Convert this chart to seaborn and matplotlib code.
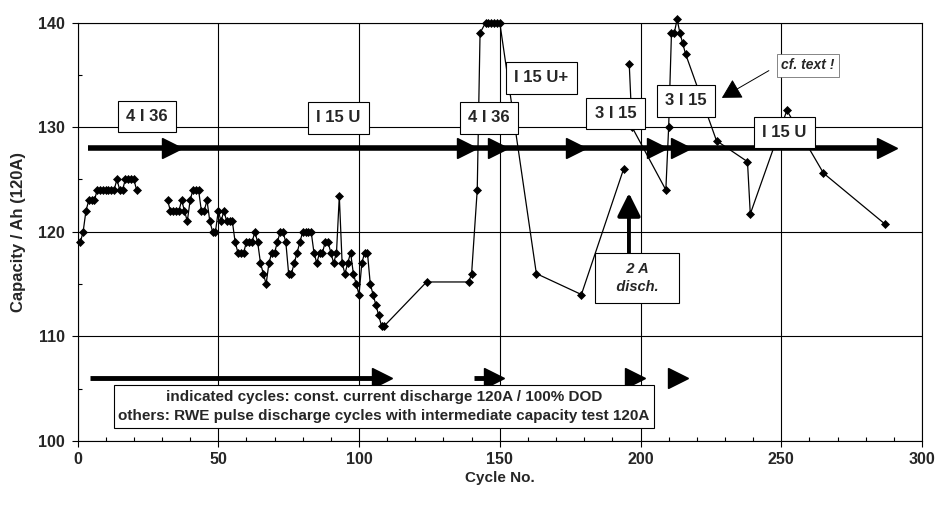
import numpy as np
import pandas as pd
import seaborn as sns
import matplotlib.pyplot as plt
from matplotlib.ticker import MultipleLocator

# ---- capacity measurements (Ah at 120 A) per cycle, three measured runs ----
cycles_a = list(range(1, 22))
capacity_a = [119, 120, 122, 123, 123, 123, 124, 124, 124, 124, 124, 124, 124,
              125, 124, 124, 125, 125, 125, 125, 124]

cycles_b = list(range(32, 110)) + [124, 139, 140, 142, 143, 145, 146, 147, 148,
                                    149, 150, 163, 179, 194]
capacity_b = [123, 122, 122, 122, 122, 123, 122, 121, 123, 124,   # 32-41
              124, 124, 122, 122, 123, 121, 120, 120, 122, 121,   # 42-51
              122, 121, 121, 121, 119, 118, 118, 118, 119, 119,   # 52-61
              119, 120, 119, 117, 116, 115, 117, 118, 118, 119,   # 62-71
              120, 120, 119, 116, 116, 117, 118, 119, 120, 120,   # 72-81
              120, 120, 118, 117, 118, 118, 119, 119, 118, 117,   # 82-91
              118, 123.4, 117, 116, 117, 118, 116, 115, 114, 117, # 92-101
              118, 118, 115, 114, 113, 112, 111, 111,             # 102-109
              115.2, 115.2, 116, 124, 139, 140, 140, 140, 140,
              140, 140, 116, 114, 126]

cycles_c = [196, 197, 209, 210, 211, 212, 213, 214, 215, 216, 227, 238, 239,
            252, 265, 287]
capacity_c = [136, 130, 124, 130, 139, 139, 140.3, 139, 138, 137, 128.7, 126.7,
              121.7, 131.6, 125.6, 120.7]

# ---- test-regime annotations ----
regime_labels = ["4 I 36", "I 15 U", "4 I 36", "I 15 U+", "3 I 15", "3 I 15", "I 15 U"]
regime_x = [24.7, 92.7, 146.2, 164.8, 191.1, 216.2, 251.0]
regime_y = [131.0, 130.9, 130.9, 134.7, 131.3, 132.5, 129.5]

upper_arrow_level = 128.0
upper_arrow_span = (3.7, 287.7)
upper_arrow_heads = [33.7, 138.3, 149.2, 177.1, 206.0, 214.3, 287.7]

lower_arrow_level = 106.0
lower_arrow_spans = [(4.3, 108.3), (140.9, 147.8)]
lower_arrow_heads = [108.3, 147.8, 198.2, 213.4]

note_lines = ["indicated cycles: const. current discharge 120A / 100% DOD",
              "others: RWE pulse discharge cycles with intermediate capacity test 120A"]

df = pd.concat([
    pd.DataFrame({"cycle": cycles_a, "capacity": capacity_a, "run": "a"}),
    pd.DataFrame({"cycle": cycles_b, "capacity": capacity_b, "run": "b"}),
    pd.DataFrame({"cycle": cycles_c, "capacity": capacity_c, "run": "c"}),
], ignore_index=True)

sns.set_theme(style="white")
plt.rcParams["font.family"] = ["Liberation Sans", "DejaVu Sans"]

fig = plt.figure(figsize=(9.35, 5.08), dpi=100)
ax = fig.add_axes([0.0829, 0.1319, 0.9032, 0.8238])

sns.lineplot(data=df, x="cycle", y="capacity", units="run", estimator=None,
             sort=False, color="black", lw=0.9, marker="D", markersize=4.2,
             markeredgewidth=0.5, markeredgecolor="black", ax=ax, zorder=3)
for ln in ax.lines:
    ln.set_clip_on(False)

ax.set_xlim(0, 300)
ax.set_ylim(100, 140)
ax.xaxis.set_major_locator(MultipleLocator(50))
ax.xaxis.set_minor_locator(MultipleLocator(10))
ax.yaxis.set_major_locator(MultipleLocator(10))
ax.yaxis.set_minor_locator(MultipleLocator(5))
ax.grid(True, which="major", color="black", lw=0.8)
ax.set_axisbelow(True)
for sp in ax.spines.values():
    sp.set_color("black")
    sp.set_linewidth(0.8)

ax.tick_params(which="major", direction="out", length=4, width=0.8, color="black",
               labelsize=11.5)
ax.tick_params(axis="x", which="major", pad=4)
ax.tick_params(axis="y", which="major", pad=5)
ax.tick_params(which="minor", direction="in", length=3, width=0.8, color="black")
ax.tick_params(axis="x", which="both", bottom=True)
ax.tick_params(axis="y", which="both", left=True)
for lab in ax.get_xticklabels() + ax.get_yticklabels():
    lab.set_fontweight("bold")

ax.set_xlabel("Cycle No.", fontsize=11, fontweight="bold", labelpad=2.5)
ax.set_ylabel("Capacity / Ah (120A)", fontsize=12, fontweight="bold", labelpad=9)

# regime arrows
arrow_kw = dict(color="black", solid_capstyle="butt", zorder=4)
ax.plot(list(upper_arrow_span), [upper_arrow_level] * 2, lw=4, **arrow_kw)
ax.plot(upper_arrow_heads, [upper_arrow_level] * len(upper_arrow_heads),
        ls="none", marker=">", markersize=15, color="black", zorder=4)
for x0, x1 in lower_arrow_spans:
    ax.plot([x0, x1], [lower_arrow_level] * 2, lw=3.5, **arrow_kw)
ax.plot(lower_arrow_heads, [lower_arrow_level] * len(lower_arrow_heads),
        ls="none", marker=">", markersize=15, color="black", zorder=4)

box = dict(boxstyle="square,pad=0.5", facecolor="white", edgecolor="black", lw=0.8)
for txt, x, y in zip(regime_labels, regime_x, regime_y):
    ax.text(x, y, txt, ha="center", va="center", fontsize=12, fontweight="bold",
            bbox=box, zorder=5)

# note on the anomalous capacity rise
ax.text(259.5, 135.9, "cf. text !", ha="center", va="center", fontsize=10,
        fontweight="bold", fontstyle="italic",
        bbox=dict(boxstyle="square,pad=0.3", facecolor="white", edgecolor="#555555", lw=0.5),
        zorder=5)
ax.annotate("", xy=(228.9, 132.8), xytext=(245.6, 135.4),
            arrowprops=dict(arrowstyle="-|>,head_length=0.8,head_width=0.45",
                            mutation_scale=15, lw=0.7, color="black",
                            shrinkA=0, shrinkB=0), zorder=5)

# 2 A discharge marker
ax.annotate("", xy=(195.9, 123.7), xytext=(195.9, 118.0),
            arrowprops=dict(arrowstyle="-|>,head_length=0.7,head_width=0.35",
                            mutation_scale=20, lw=2.8, color="black",
                            shrinkA=0, shrinkB=0), zorder=5)
ax.text(198.8, 115.6, "   2 A   \n   disch.   ", ha="center", va="center", fontsize=10.5,
        fontweight="bold", fontstyle="italic", linespacing=1.4,
        bbox=dict(boxstyle="square,pad=0.6", facecolor="white", edgecolor="black", lw=0.8),
        zorder=6)

ax.text(108.9, 103.3, "\n".join(note_lines), ha="center", va="center",
        fontsize=11, fontweight="bold", linespacing=1.5,
        bbox=dict(boxstyle="square,pad=0.3", facecolor="white", edgecolor="black", lw=0.8),
        zorder=6)

fig.savefig("out.png", dpi=100)
